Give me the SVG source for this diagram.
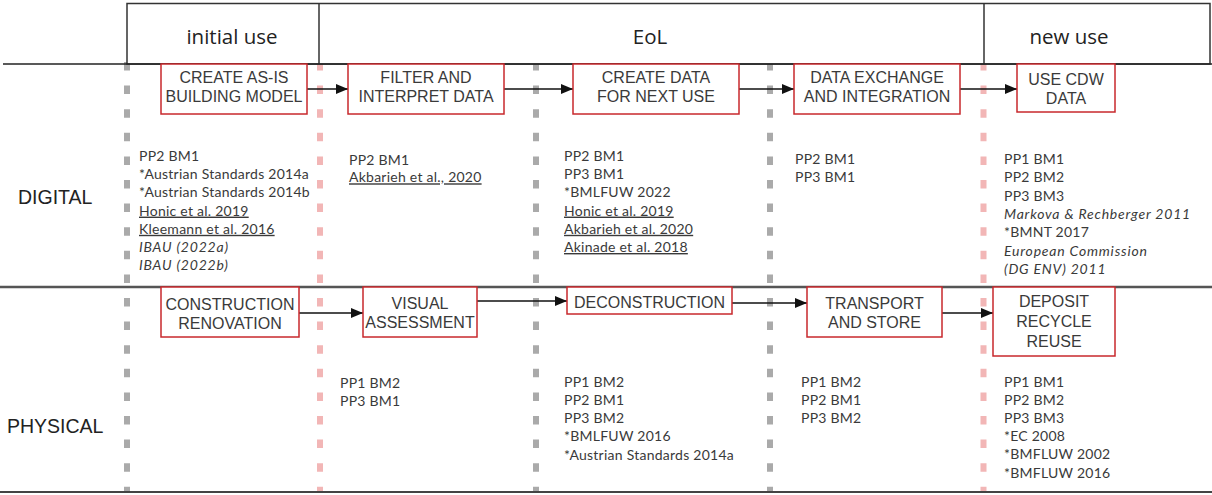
<svg xmlns="http://www.w3.org/2000/svg" width="1212" height="495" viewBox="0 0 1212 495">
<style>
.hdr{font-family:"Open Sans","Liberation Sans",sans-serif;font-size:20.5px;fill:#222;text-anchor:middle}
.row{font-family:"Liberation Sans",Arial,sans-serif;font-size:19.5px;fill:#222}
.box{fill:#fff;stroke:#c8282d;stroke-width:1.5}
.bt{font-family:"Liberation Sans",Arial,sans-serif;font-size:16px;fill:#3a3a3a;text-anchor:middle}
.ref{font-family:Lato,"Open Sans",sans-serif;font-size:14px;fill:#3a3a3a;letter-spacing:0.25px}
.u{text-decoration:underline}
.i{font-style:italic;letter-spacing:0.8px}
.dg{stroke:#aaaaaa;stroke-width:6;stroke-dasharray:8.5 15.1}
.dp{stroke:#f2b6b6;stroke-width:6;stroke-dasharray:8.5 15.1}
.conn{stroke:#111;stroke-width:1.4;fill:none;marker-end:url(#ah)}
</style>
<defs>
<marker id="ah" viewBox="0 0 12 10" refX="12" refY="5" markerWidth="12" markerHeight="10" markerUnits="userSpaceOnUse" orient="auto">
<path d="M0,0 L12,5 L0,10 Z" fill="#111"/>
</marker>
</defs>
<rect width="1212" height="495" fill="#fff"/>
<g id="gridlines">
<line class="dg" x1="127" y1="62" x2="127" y2="492"/>
<line class="dp" x1="320" y1="62" x2="320" y2="492"/>
<line class="dg" x1="536" y1="62" x2="536" y2="492"/>
<line class="dg" x1="770" y1="62" x2="770" y2="492"/>
<line class="dp" x1="983.5" y1="62" x2="983.5" y2="492"/>
</g>
<g id="header">
<rect x="127" y="3.5" width="1083" height="60.5" fill="#fff" stroke="#333" stroke-width="1.5"/>
<line x1="319" y1="3.5" x2="319" y2="64" stroke="#333" stroke-width="1.5"/>
<line x1="984" y1="3.5" x2="984" y2="64" stroke="#333" stroke-width="1.5"/>
<line x1="3" y1="64" x2="1212" y2="64" stroke="#222" stroke-width="1.6"/>
<text class="hdr" x="232" y="44">initial use</text>
<text class="hdr" x="650" y="44">EoL</text>
<text class="hdr" x="1069" y="44">new use</text>
</g>
<g id="separators">
<line x1="0" y1="287" x2="1212" y2="287" stroke="#555" stroke-width="2.4"/>
<line x1="0" y1="492" x2="1212" y2="492" stroke="#444" stroke-width="2"/>
</g>
<text class="row" x="18" y="204">DIGITAL</text>
<text class="row" x="7" y="433">PHYSICAL</text>
<g id="connectors">
<line class="conn" x1="307" y1="89" x2="348" y2="89"/>
<line class="conn" x1="504" y1="89" x2="573" y2="89"/>
<line class="conn" x1="739" y1="89" x2="794" y2="89"/>
<line class="conn" x1="960" y1="89" x2="1017" y2="89"/>
<line class="conn" x1="299" y1="313" x2="363" y2="313"/>
<line class="conn" x1="477" y1="301" x2="567" y2="301"/>
<line class="conn" x1="732" y1="303" x2="807" y2="303"/>
<line class="conn" x1="942" y1="313" x2="993" y2="313"/>
</g>
<g id="n-create-asis"><rect class="box" x="161" y="64" width="146" height="50"/><text class="bt" x="234" y="83">CREATE AS-IS</text><text class="bt" x="234" y="102">BUILDING MODEL</text></g>
<g id="n-filter"><rect class="box" x="348" y="64" width="156" height="50"/><text class="bt" x="426" y="83">FILTER AND</text><text class="bt" x="426" y="102">INTERPRET DATA</text></g>
<g id="n-create-data"><rect class="box" x="573" y="64" width="166" height="50"/><text class="bt" x="656" y="83">CREATE DATA</text><text class="bt" x="656" y="102">FOR NEXT USE</text></g>
<g id="n-exchange"><rect class="box" x="794" y="64" width="166" height="50"/><text class="bt" x="877" y="83">DATA EXCHANGE</text><text class="bt" x="877" y="102">AND INTEGRATION</text></g>
<g id="n-use-cdw"><rect class="box" x="1017" y="64" width="98" height="48"/><text class="bt" x="1066" y="84.5">USE CDW</text><text class="bt" x="1066" y="103.5">DATA</text></g>
<g id="n-construction"><rect class="box" x="161" y="287" width="138" height="50"/><text class="bt" x="230" y="310">CONSTRUCTION</text><text class="bt" x="230" y="329">RENOVATION</text></g>
<g id="n-visual"><rect class="box" x="363" y="287" width="114" height="50"/><text class="bt" x="420" y="308.5">VISUAL</text><text class="bt" x="420" y="328">ASSESSMENT</text></g>
<g id="n-deconstruction"><rect class="box" x="567" y="287" width="165" height="27"/><text class="bt" x="649.5" y="308">DECONSTRUCTION</text></g>
<g id="n-transport"><rect class="box" x="807" y="287" width="135" height="50"/><text class="bt" x="874.5" y="309">TRANSPORT</text><text class="bt" x="874.5" y="328">AND STORE</text></g>
<g id="n-deposit"><rect class="box" x="993" y="287" width="122" height="69"/><text class="bt" x="1054" y="307">DEPOSIT</text><text class="bt" x="1054" y="327">RECYCLE</text><text class="bt" x="1054" y="347">REUSE</text></g>
<g id="refs-digital" class="ref">
<text x="139" y="161">PP2 BM1</text>
<text x="139" y="179.2">*Austrian Standards 2014a</text>
<text x="139" y="197.4">*Austrian Standards 2014b</text>
<text x="139" y="215.6" class="u">Honic et al. 2019</text>
<text x="139" y="233.8" class="u">Kleemann et al. 2016</text>
<text x="139" y="252" class="i">IBAU (2022a)</text>
<text x="139" y="270.2" class="i">IBAU (2022b)</text>
<text x="349" y="164.5">PP2 BM1</text>
<text x="349" y="182.3" class="u">Akbarieh et al., 2020</text>
<text x="564" y="161">PP2 BM1</text>
<text x="564" y="179.2">PP3 BM1</text>
<text x="564" y="197.4">*BMLFUW 2022</text>
<text x="564" y="215.6" class="u">Honic et al. 2019</text>
<text x="564" y="233.8" class="u">Akbarieh et al. 2020</text>
<text x="564" y="252" class="u">Akinade et al. 2018</text>
<text x="795" y="164">PP2 BM1</text>
<text x="795" y="182.3">PP3 BM1</text>
<text x="1004" y="164">PP1 BM1</text>
<text x="1004" y="182.3">PP2 BM2</text>
<text x="1004" y="200.6">PP3 BM3</text>
<text x="1004" y="218.9" class="i">Markova &amp; Rechberger 2011</text>
<text x="1004" y="237.2">*BMNT 2017</text>
<text x="1004" y="255.5" class="i">European Commission</text>
<text x="1004" y="273.8" class="i">(DG ENV) 2011</text>
</g>
<g id="refs-physical" class="ref">
<text x="340" y="388">PP1 BM2</text>
<text x="340" y="405.5">PP3 BM1</text>
<text x="564" y="386.5">PP1 BM2</text>
<text x="564" y="404.8">PP2 BM1</text>
<text x="564" y="423.1">PP3 BM2</text>
<text x="564" y="441.4">*BMLFUW 2016</text>
<text x="564" y="459.7">*Austrian Standards 2014a</text>
<text x="801" y="386.5">PP1 BM2</text>
<text x="801" y="404.8">PP2 BM1</text>
<text x="801" y="423.1">PP3 BM2</text>
<text x="1004" y="387">PP1 BM1</text>
<text x="1004" y="405.1">PP2 BM2</text>
<text x="1004" y="423.2">PP3 BM3</text>
<text x="1004" y="441.3">*EC 2008</text>
<text x="1004" y="459.4">*BMFLUW 2002</text>
<text x="1004" y="477.5">*BMFLUW 2016</text>
</g>
</svg>
